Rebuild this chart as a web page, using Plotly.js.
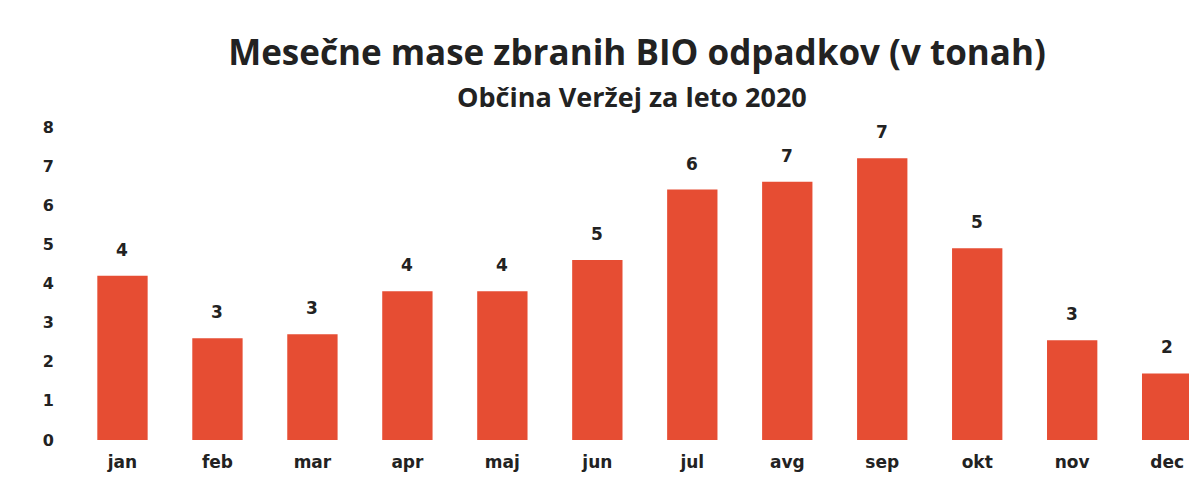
<!DOCTYPE html>
<html>
<head>
<meta charset="utf-8">
<script src="https://cdn.plot.ly/plotly-3.0.1.min.js"></script>
<style>html,body{margin:0;padding:0;background:#fff;}#chart{width:1189px;height:488px;}</style>
</head>
<body>
<div id="chart"></div>
<script>
const months = ['jan','feb','mar','apr','maj','jun','jul','avg','sep','okt','nov','dec'];
const tonnes = [4.2, 2.6, 2.7, 3.8, 3.8, 4.6, 6.4, 6.6, 7.2, 4.9, 2.55, 1.7];
const yTicks = [0,1,2,3,4,5,6,7,8];
const titleText = 'Mesečne mase zbranih BIO odpadkov (v tonah)';
const subtitleText = 'Občina Veržej za leto 2020';

const barColor = '#E64D33';
const textColor = '#222222';

const trace = {
  type: 'bar',
  x: months,
  y: tonnes,
  marker: {color: barColor},
  hoverinfo: 'x+y'
};

const labelAnnotations = months.map((m, i) => ({
  x: m, y: tonnes[i], xref: 'x', yref: 'y',
  text: String(Math.round(tonnes[i])),
  showarrow: false, yanchor: 'bottom', yshift: 14,
  font: {family: 'DejaVu Sans', size: 17, color: textColor, weight: 'bold'}
}));

const layout = {
  width: 1189, height: 488,
  margin: {l: 75, r: 0, t: 127, b: 48},
  paper_bgcolor: '#fff', plot_bgcolor: '#fff',
  bargap: 0.47,
  showlegend: false,
  title: {
    text: '<b>' + titleText + '</b>',
    x: 637/1189, xanchor: 'center', xref: 'container',
    y: 1 - 53/488, yanchor: 'middle', yref: 'container',
    font: {family: 'Open Sans', size: 35, color: textColor}
  },
  xaxis: {
    type: 'category',
    range: [-0.5, 11.23],
    showgrid: false, zeroline: false, showline: false, ticks: '',
    ticklabelstandoff: 10,
    tickfont: {family: 'DejaVu Sans', size: 17, color: textColor, weight: 'bold'}
  },
  yaxis: {
    range: [0, 8],
    tickvals: yTicks,
    showgrid: false, zeroline: false, showline: false, ticks: '',
    ticklabelstandoff: 20,
    tickfont: {family: 'DejaVu Sans', size: 16, color: textColor, weight: 'bold'}
  },
  annotations: labelAnnotations.concat([{
    text: '<b>' + subtitleText + '</b>',
    xref: 'paper', yref: 'paper',
    x: (632 - 75) / 1114, y: 1, yanchor: 'middle', xanchor: 'center',
    yshift: (127 - 96),
    showarrow: false,
    font: {family: 'Open Sans', size: 27, color: textColor}
  }])
};

Plotly.newPlot('chart', [trace], layout, {displayModeBar: false, staticPlot: true});
</script>
</body>
</html>
